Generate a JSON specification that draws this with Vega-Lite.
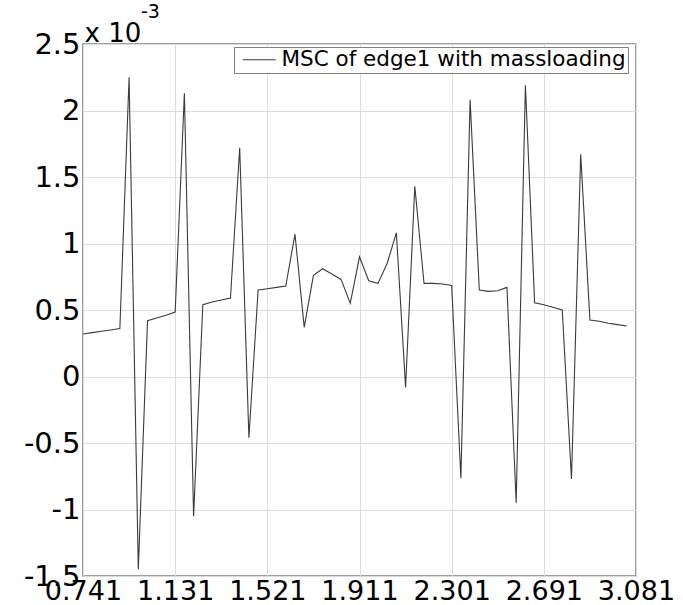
{
  "$schema": "https://vega.github.io/schema/vega-lite/v6.json",
  "width": 553,
  "height": 532,
  "autosize": "none",
  "padding": {"left": 83, "top": 44, "right": 47, "bottom": 29},
  "background": "white",
  "title": {"text": "-3", "anchor": "start", "frame": "group", "dx": 58, "offset": -2, "fontSize": 19, "fontWeight": "normal", "font": "DejaVu Sans", "color": "black"},
  "config": {
    "view": {"stroke": "#808080", "strokeWidth": 1.5},
    "font": "DejaVu Sans"
  },
  "data": {"values": [
    {"f": 0.741, "msc": 0.00032}, {"f": 0.780, "msc": 0.00033}, {"f": 0.819, "msc": 0.00034}, {"f": 0.858, "msc": 0.00035},
    {"f": 0.897, "msc": 0.00036}, {"f": 0.936, "msc": 0.00225}, {"f": 0.975, "msc": -0.00145}, {"f": 1.014, "msc": 0.00042},
    {"f": 1.053, "msc": 0.00044}, {"f": 1.092, "msc": 0.00046}, {"f": 1.131, "msc": 0.000485}, {"f": 1.170, "msc": 0.00213},
    {"f": 1.209, "msc": -0.00105}, {"f": 1.248, "msc": 0.00054}, {"f": 1.287, "msc": 0.00056}, {"f": 1.326, "msc": 0.000575},
    {"f": 1.365, "msc": 0.00059}, {"f": 1.404, "msc": 0.00172}, {"f": 1.443, "msc": -0.00046}, {"f": 1.482, "msc": 0.00065},
    {"f": 1.521, "msc": 0.00066}, {"f": 1.560, "msc": 0.00067}, {"f": 1.599, "msc": 0.00068}, {"f": 1.638, "msc": 0.00107},
    {"f": 1.677, "msc": 0.00037}, {"f": 1.716, "msc": 0.00076}, {"f": 1.755, "msc": 0.00081}, {"f": 1.794, "msc": 0.00077},
    {"f": 1.833, "msc": 0.00073}, {"f": 1.872, "msc": 0.00055}, {"f": 1.911, "msc": 0.0009}, {"f": 1.950, "msc": 0.00072},
    {"f": 1.989, "msc": 0.0007}, {"f": 2.028, "msc": 0.00085}, {"f": 2.067, "msc": 0.00108}, {"f": 2.106, "msc": -0.00008},
    {"f": 2.145, "msc": 0.00143}, {"f": 2.184, "msc": 0.0007}, {"f": 2.223, "msc": 0.0007}, {"f": 2.262, "msc": 0.000695},
    {"f": 2.301, "msc": 0.000685}, {"f": 2.340, "msc": -0.000765}, {"f": 2.379, "msc": 0.00208}, {"f": 2.418, "msc": 0.00065},
    {"f": 2.457, "msc": 0.00064}, {"f": 2.496, "msc": 0.000645}, {"f": 2.535, "msc": 0.00067}, {"f": 2.574, "msc": -0.00095},
    {"f": 2.613, "msc": 0.00219}, {"f": 2.652, "msc": 0.000555}, {"f": 2.691, "msc": 0.00054}, {"f": 2.730, "msc": 0.00052},
    {"f": 2.769, "msc": 0.0005}, {"f": 2.808, "msc": -0.00077}, {"f": 2.847, "msc": 0.00167}, {"f": 2.886, "msc": 0.000425},
    {"f": 2.925, "msc": 0.000415}, {"f": 2.964, "msc": 0.0004}, {"f": 3.003, "msc": 0.00039}, {"f": 3.042, "msc": 0.00038}
  ]},
  "mark": {"type": "line", "strokeWidth": 1.1, "clip": true},
  "encoding": {
    "x": {
      "field": "f", "type": "quantitative",
      "scale": {"domain": [0.741, 3.081], "nice": false, "zero": false},
      "axis": {
        "values": [0.741, 1.131, 1.521, 1.911, 2.301, 2.691, 3.081],
        "format": ".3f", "title": null, "domain": false, "ticks": false,
        "labelFontSize": 27, "labelColor": "black", "labelPadding": 2, "labelFlush": false,
        "grid": true, "gridColor": "#dcdcdc", "gridWidth": 1
      }
    },
    "y": {
      "field": "msc", "type": "quantitative",
      "scale": {"domain": [-0.0015, 0.0025], "nice": false, "zero": false},
      "axis": {
        "values": [-0.0015, -0.001, -0.0005, 0, 0.0005, 0.001, 0.0015, 0.002, 0.0025],
        "labelExpr": "'' + round(datum.value * 10000) / 10",
        "domain": false, "ticks": false,
        "labelFontSize": 29, "labelColor": "black", "labelPadding": 3,
        "grid": true, "gridColor": "#dcdcdc", "gridWidth": 1,
        "title": "x 10", "titleAngle": 0, "titleAlign": "left", "titleBaseline": "alphabetic",
        "titleX": 1, "titleY": -3, "titleFontSize": 26, "titleFontWeight": "normal", "titleColor": "black"
      }
    },
    "color": {
      "datum": "MSC of edge1 with massloading",
      "scale": {"range": ["#3a3a3a"]},
      "legend": {
        "title": null, "orient": "none", "legendX": 151, "legendY": 3,
        "symbolType": "M-1.65,0H1.65", "symbolSize": 400, "symbolStrokeWidth": 1, "symbolStrokeColor": "#555",
        "symbolOffset": 12.5,
        "labelFontSize": 21.5, "labelColor": "black", "labelOffset": 11.5, "labelLimit": 500,
        "padding": 2, "strokeColor": "#808080", "fillColor": "white"
      }
    }
  }
}
